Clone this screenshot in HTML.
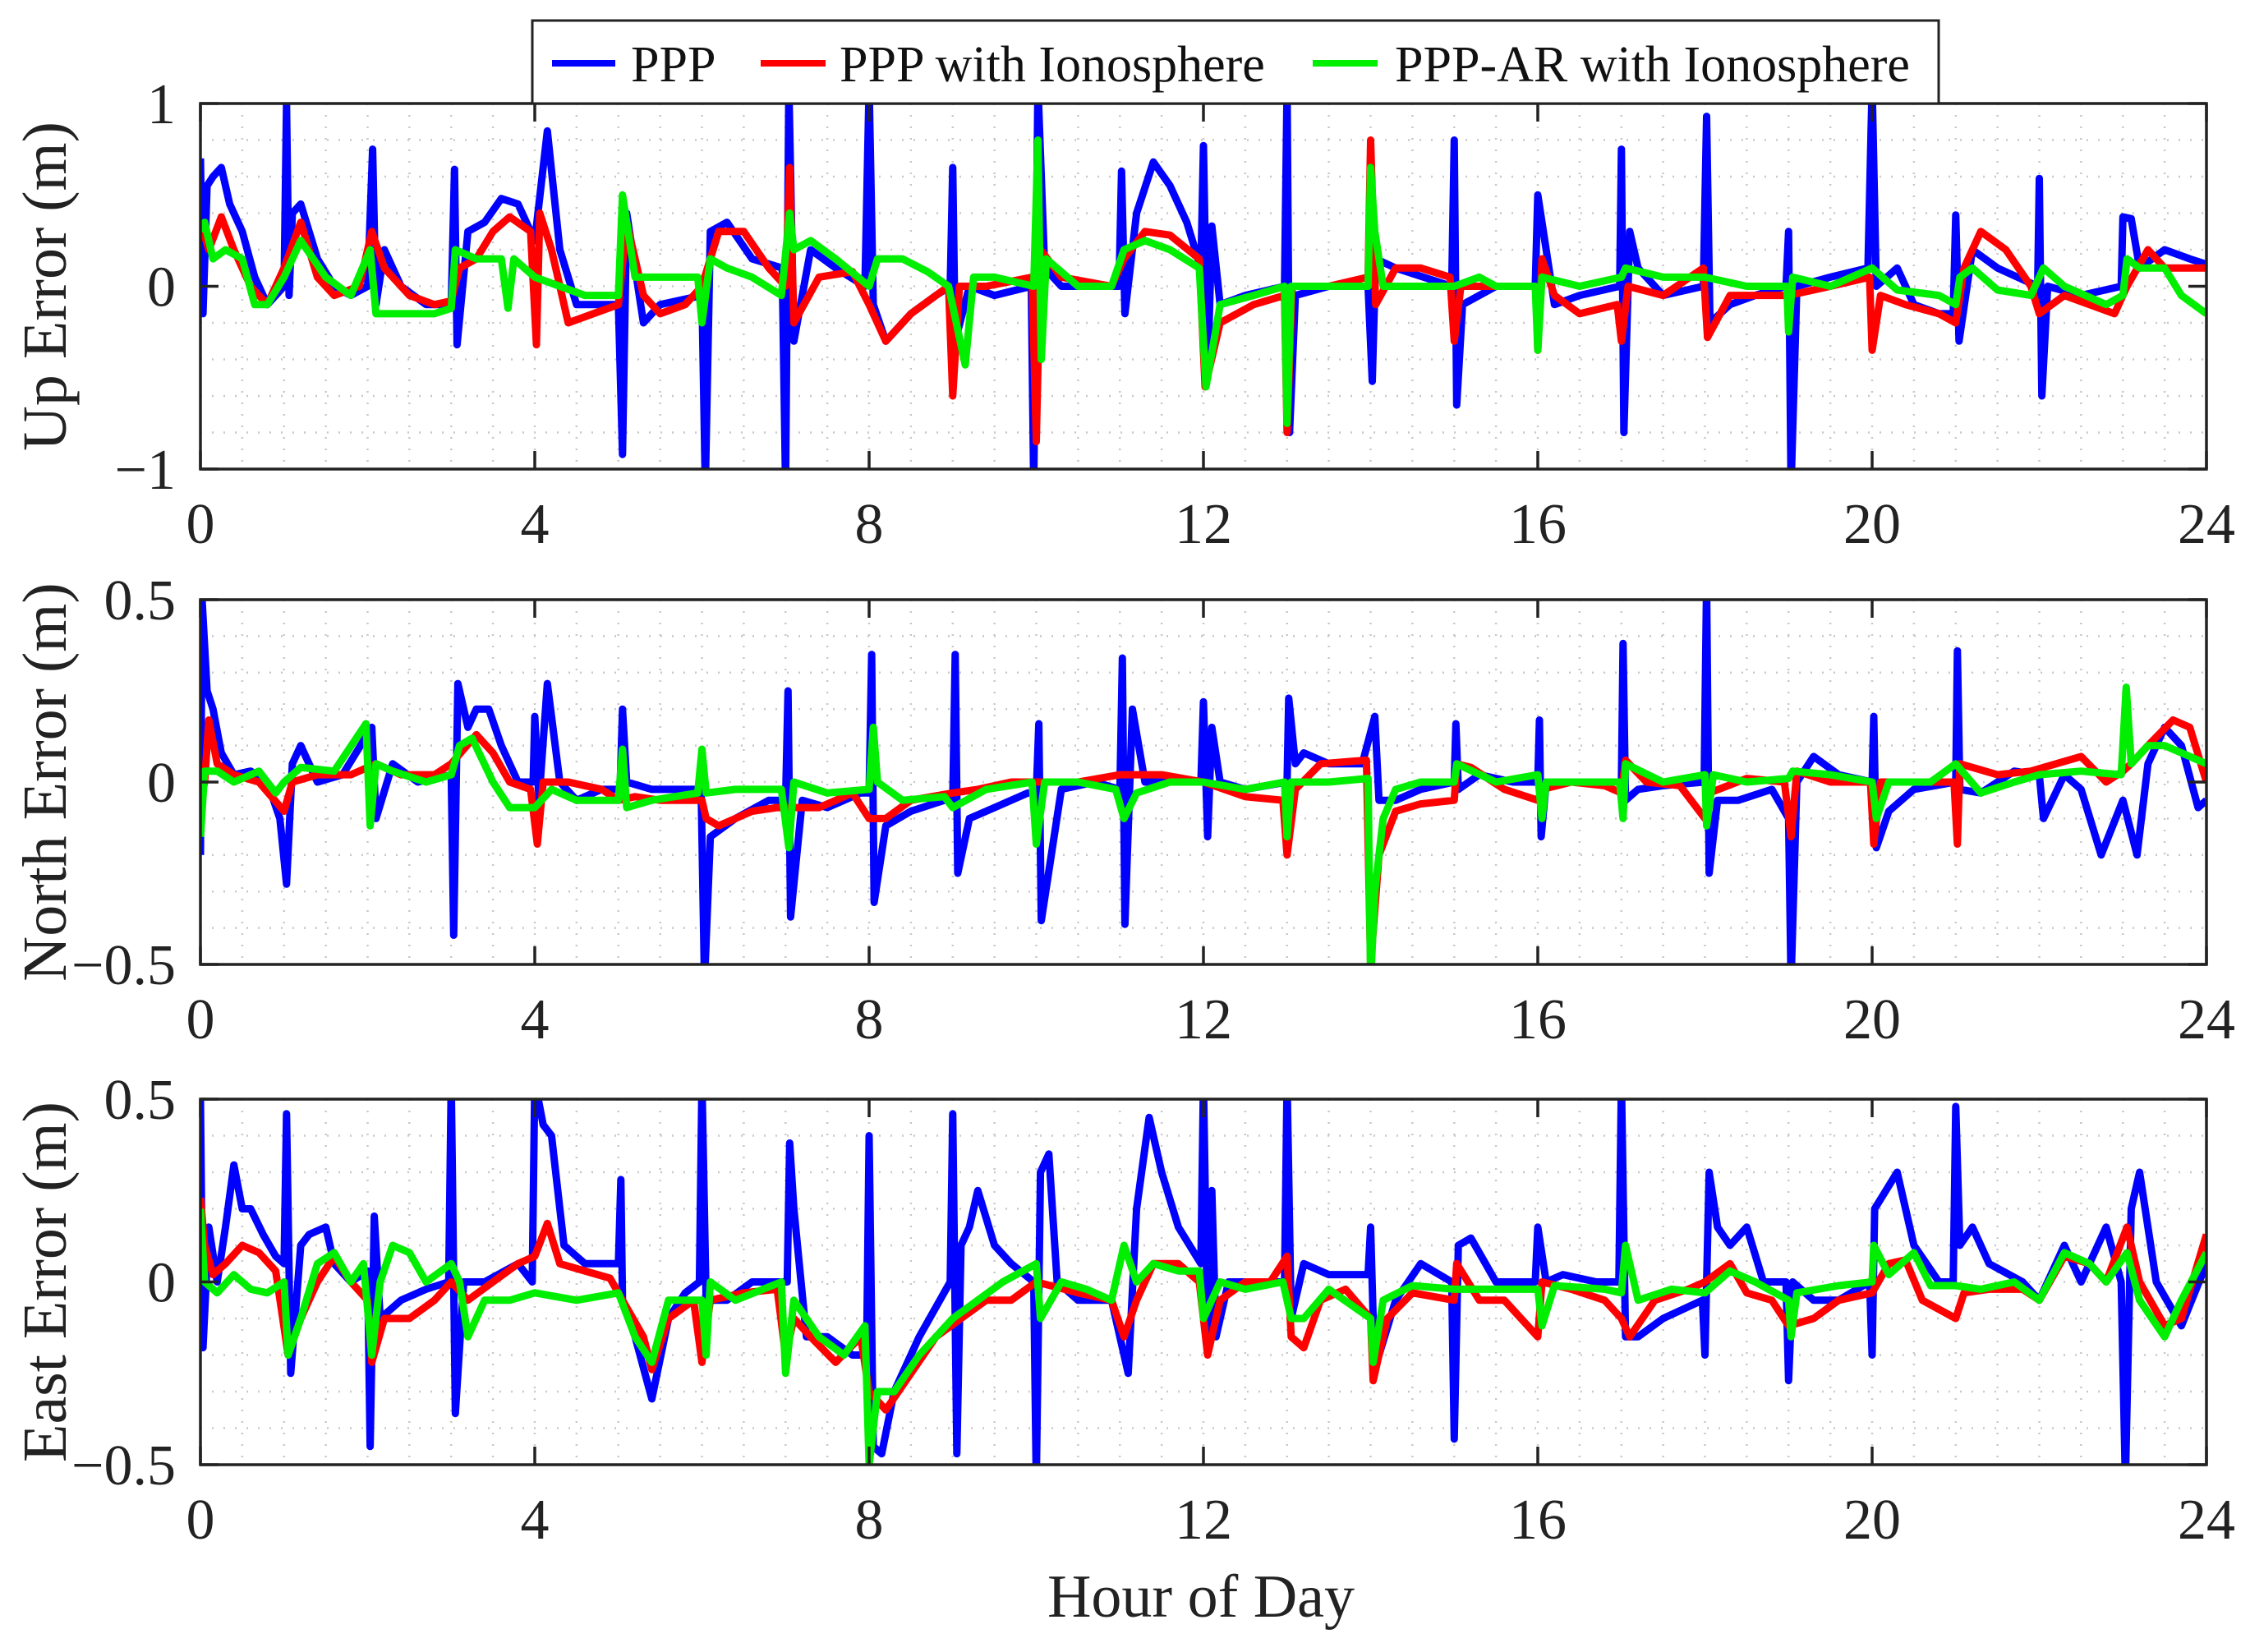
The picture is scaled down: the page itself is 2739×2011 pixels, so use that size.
<!DOCTYPE html>
<html><head><meta charset="utf-8"><style>
html,body{margin:0;padding:0;background:#fff;}
svg{display:block;font-family:"Liberation Serif","Times New Roman",serif;}
</style></head><body>
<svg id="chart" width="2739" height="2011" viewBox="0 0 2739 2011" xmlns="http://www.w3.org/2000/svg">
<rect x="0" y="0" width="2739" height="2011" fill="#fff"/>
<g id="panels"></g>
<text x="1462" y="1968" font-size="74" text-anchor="middle" fill="#222">Hour of Day</text>
<g>
<rect x="648" y="25" width="1712" height="101" fill="#fff" stroke="#222" stroke-width="3"/>
<g><line x1="672" y1="77" x2="749" y2="77" stroke="#0000ff" stroke-width="8"/><text x="768" y="99" font-size="62" fill="#111">PPP</text></g>
<g><line x1="926" y1="77" x2="1005" y2="77" stroke="#ff0000" stroke-width="8"/><text x="1022" y="99" font-size="62" fill="#111">PPP with Ionosphere</text></g>
<g><line x1="1598" y1="77" x2="1677" y2="77" stroke="#00ee00" stroke-width="8"/><text x="1698" y="99" font-size="62" fill="#111">PPP-AR with Ionosphere</text></g>
</g>
</svg>
<script>
const xTicks = [0,4,8,12,16,20,24];
const upTicks = [-1,0,1];
const upTickLabels = ["\u22121","0","1"];
const neTicks = [-0.5,0,0.5];
const neTickLabels = ["\u22120.5","0","0.5"];

const upPPP = [[0,0.7],[0.03,-0.15],[0.08,0.55],[0.15,0.6],[0.25,0.65],[0.35,0.45],[0.5,0.3],[0.65,0.05],[0.8,-0.1],[1.0,0.0],[1.03,1],[1.06,-0.05],[1.1,0.4],[1.2,0.45],[1.4,0.15],[1.6,0.0],[1.8,-0.05],[2.0,0.0],[2.06,0.75],[2.1,-0.1],[2.2,0.2],[2.4,0.0],[2.7,-0.1],[3.0,-0.1],[3.04,0.64],[3.07,-0.32],[3.2,0.3],[3.4,0.35],[3.6,0.48],[3.8,0.45],[4.0,0.25],[4.05,0.45],[4.15,0.85],[4.3,0.2],[4.5,-0.1],[4.8,-0.1],[5.0,-0.1],[5.05,-0.92],[5.1,0.4],[5.3,-0.2],[5.5,-0.1],[6.0,-0.05],[6.04,-1.1],[6.1,0.3],[6.3,0.35],[6.6,0.15],[6.96,0.1],[7.0,-1.1],[7.04,1.1],[7.1,-0.3],[7.3,0.2],[7.6,0.1],[7.95,0.0],[8.0,1.1],[8.05,-0.1],[8.2,-0.3],[8.5,-0.15],[8.8,-0.05],[8.97,0.0],[9.0,0.65],[9.03,-0.3],[9.2,0.0],[9.5,-0.05],[9.94,0.0],[9.97,-1.1],[10.02,1.1],[10.1,0.1],[10.3,0.0],[10.8,0.0],[10.99,0.0],[11.02,0.63],[11.06,-0.15],[11.2,0.4],[11.4,0.68],[11.6,0.55],[11.8,0.35],[11.97,0.1],[12.0,0.77],[12.05,-0.5],[12.1,0.33],[12.2,-0.1],[12.5,-0.05],[12.97,0.0],[13.0,1.1],[13.03,-0.8],[13.1,-0.05],[13.5,0.0],[13.97,0.0],[14.02,-0.52],[14.06,0.15],[14.3,0.1],[14.97,0.0],[15.0,0.8],[15.03,-0.65],[15.1,-0.1],[15.5,0.0],[15.97,0.0],[16.0,0.5],[16.1,0.2],[16.2,-0.1],[16.5,-0.05],[16.98,0.0],[17.0,0.75],[17.03,-0.8],[17.1,0.3],[17.2,0.1],[17.5,-0.05],[17.98,0.0],[18.02,0.93],[18.06,-0.2],[18.3,-0.1],[18.6,-0.05],[18.97,0.0],[19.0,0.3],[19.03,-1.1],[19.1,0.0],[19.5,0.05],[19.95,0.1],[20.0,1.1],[20.05,0.0],[20.3,0.1],[20.5,-0.1],[20.8,-0.15],[20.97,-0.15],[21.0,0.39],[21.04,-0.3],[21.2,0.2],[21.5,0.1],[21.98,0.0],[22.0,0.59],[22.03,-0.6],[22.1,0.0],[22.5,-0.05],[22.98,0.0],[23.0,0.38],[23.1,0.37],[23.2,0.1],[23.5,0.2],[23.8,0.15],[24,0.12]];
const upIono = [[0,0.35],[0.1,0.2],[0.25,0.38],[0.4,0.2],[0.6,0.0],[0.8,-0.1],[1.0,0.1],[1.2,0.35],[1.4,0.05],[1.6,-0.05],[1.9,0.0],[2.05,0.3],[2.2,0.1],[2.5,-0.05],[2.8,-0.1],[3.0,-0.08],[3.1,0.1],[3.3,0.15],[3.5,0.3],[3.7,0.38],[3.95,0.3],[4.02,-0.32],[4.06,0.4],[4.2,0.2],[4.4,-0.2],[4.7,-0.15],[5.0,-0.1],[5.1,0.35],[5.3,-0.05],[5.5,-0.15],[5.8,-0.1],[6.0,0.0],[6.2,0.3],[6.5,0.3],[6.8,0.1],[7.0,0.0],[7.05,0.65],[7.1,-0.2],[7.4,0.05],[7.8,0.08],[8.0,-0.1],[8.2,-0.3],[8.5,-0.15],[8.95,0.0],[9.0,-0.6],[9.08,0.0],[9.4,0.0],[9.95,0.05],[10.0,-0.85],[10.05,0.2],[10.3,0.05],[10.9,0.0],[11.05,0.15],[11.3,0.3],[11.6,0.28],[11.95,0.15],[12.02,-0.55],[12.2,-0.2],[12.6,-0.1],[12.97,-0.05],[13.0,-0.8],[13.06,0.0],[13.5,0.0],[13.97,0.05],[14.0,0.8],[14.06,-0.1],[14.3,0.1],[14.6,0.1],[14.95,0.05],[15.0,-0.3],[15.08,0.0],[15.5,0.0],[15.98,0.0],[16.0,-0.35],[16.05,0.15],[16.2,-0.05],[16.5,-0.15],[16.95,-0.1],[17.0,-0.3],[17.08,0.0],[17.5,-0.05],[17.98,0.1],[18.03,-0.28],[18.3,-0.05],[18.7,-0.05],[19.0,-0.05],[19.5,0.0],[19.97,0.05],[20.0,-0.35],[20.1,-0.05],[20.4,-0.1],[20.8,-0.15],[21.0,-0.2],[21.1,0.1],[21.3,0.3],[21.6,0.2],[21.9,0.0],[22.0,-0.15],[22.3,-0.05],[22.6,-0.1],[22.9,-0.15],[23.05,0.0],[23.3,0.2],[23.5,0.1],[23.7,0.1],[24,0.1]];
const upAR = [[0,0.3],[0.05,0.35],[0.15,0.15],[0.3,0.2],[0.5,0.15],[0.65,-0.1],[0.8,-0.1],[1.0,0.05],[1.2,0.25],[1.5,0.05],[1.8,-0.05],[2.03,0.2],[2.1,-0.15],[2.4,-0.15],[2.8,-0.15],[3.0,-0.12],[3.05,0.2],[3.3,0.15],[3.6,0.15],[3.68,-0.12],[3.75,0.15],[4.0,0.05],[4.3,0.0],[4.6,-0.05],[5.0,-0.05],[5.05,0.5],[5.2,0.05],[5.5,0.05],[5.95,0.05],[6.0,-0.2],[6.1,0.15],[6.3,0.1],[6.6,0.05],[6.95,-0.05],[7.05,0.4],[7.1,0.2],[7.3,0.25],[7.6,0.15],[8.0,0.0],[8.1,0.15],[8.4,0.15],[8.7,0.08],[8.95,0.0],[9.15,-0.43],[9.25,0.05],[9.5,0.05],[9.97,0.0],[10.02,0.8],[10.06,-0.4],[10.12,0.15],[10.5,0.0],[10.9,0.0],[11.05,0.2],[11.3,0.25],[11.6,0.2],[11.95,0.1],[12.03,-0.55],[12.2,-0.1],[12.6,-0.05],[12.97,0.0],[13.0,-0.75],[13.05,0.0],[13.5,0.0],[13.97,0.0],[14.0,0.65],[14.05,0.3],[14.15,0.0],[14.5,0.0],[15.0,0.0],[15.3,0.05],[15.5,0.0],[15.97,0.0],[16.0,-0.35],[16.05,0.05],[16.5,0.0],[17.0,0.05],[17.05,0.1],[17.5,0.05],[18.0,0.05],[18.5,0.0],[18.98,0.0],[19.0,-0.25],[19.05,0.05],[19.5,0.0],[20.0,0.1],[20.3,-0.02],[20.8,-0.05],[21.0,-0.1],[21.05,0.05],[21.2,0.1],[21.5,-0.02],[21.9,-0.05],[22.05,0.1],[22.3,0.0],[22.8,-0.1],[23.0,-0.05],[23.05,0.15],[23.2,0.1],[23.5,0.1],[23.7,-0.05],[24,-0.15]];

const nPPP = [[0,-0.2],[0.02,0.5],[0.08,0.25],[0.15,0.2],[0.25,0.08],[0.4,0.02],[0.6,0.03],[0.8,0.0],[0.95,-0.1],[1.03,-0.28],[1.1,0.05],[1.2,0.1],[1.4,0.0],[1.7,0.02],[2.05,0.15],[2.1,-0.1],[2.3,0.05],[2.6,0.0],[3.0,0.02],[3.03,-0.42],[3.08,0.27],[3.2,0.15],[3.3,0.2],[3.45,0.2],[3.6,0.1],[3.8,0.0],[3.98,0.0],[4.0,0.18],[4.05,-0.05],[4.15,0.27],[4.3,0.0],[4.5,-0.05],[4.8,-0.02],[5.02,-0.02],[5.05,0.2],[5.1,0.0],[5.4,-0.02],[5.8,-0.02],[5.99,-0.02],[6.03,-0.55],[6.1,-0.15],[6.4,-0.1],[6.8,-0.05],[7.0,-0.05],[7.03,0.25],[7.06,-0.37],[7.2,-0.05],[7.5,-0.07],[7.9,-0.03],[8.0,-0.03],[8.03,0.35],[8.06,-0.33],[8.2,-0.12],[8.5,-0.08],[8.9,-0.05],[9.0,-0.05],[9.03,0.35],[9.06,-0.25],[9.2,-0.1],[9.5,-0.07],[9.9,-0.03],[10.0,-0.03],[10.03,0.16],[10.06,-0.38],[10.3,-0.02],[10.7,0.0],[11.0,-0.02],[11.03,0.34],[11.06,-0.39],[11.15,0.2],[11.3,0.0],[11.6,0.0],[11.97,0.0],[12.0,0.22],[12.05,-0.15],[12.1,0.15],[12.2,0.0],[12.5,-0.02],[13.0,0.0],[13.02,0.23],[13.1,0.05],[13.2,0.08],[13.5,0.05],[13.9,0.05],[14.05,0.18],[14.1,-0.05],[14.3,-0.05],[14.6,-0.02],[15.0,0.0],[15.02,0.16],[15.05,-0.02],[15.3,0.02],[15.7,0.0],[16.0,0.0],[16.02,0.17],[16.04,-0.15],[16.1,0.0],[16.5,0.0],[17.0,0.0],[17.02,0.38],[17.05,-0.05],[17.2,-0.02],[17.5,-0.01],[17.99,0.0],[18.02,0.55],[18.05,-0.25],[18.15,-0.05],[18.4,-0.05],[18.8,-0.02],[19.0,-0.1],[19.03,-0.55],[19.1,0.0],[19.3,0.07],[19.6,0.02],[20.0,0.0],[20.02,0.18],[20.05,-0.18],[20.2,-0.08],[20.5,-0.02],[21.0,0.0],[21.02,0.36],[21.05,-0.02],[21.3,-0.03],[21.7,0.03],[22.0,0.02],[22.05,-0.1],[22.3,0.02],[22.5,-0.02],[22.74,-0.2],[23.0,-0.05],[23.17,-0.2],[23.3,0.05],[23.5,0.15],[23.7,0.1],[23.9,-0.07],[24,-0.05]];
const nIono = [[0,-0.05],[0.05,0.0],[0.1,0.17],[0.2,0.05],[0.4,0.02],[0.7,0.0],[1.0,-0.08],[1.1,0.0],[1.4,0.02],[1.8,0.02],[2.1,0.05],[2.4,0.02],[2.8,0.02],[3.0,0.05],[3.3,0.13],[3.5,0.08],[3.7,0.0],[3.95,-0.02],[4.03,-0.17],[4.1,0.0],[4.4,0.0],[4.8,-0.02],[5.0,-0.05],[5.2,-0.04],[5.5,-0.05],[6.0,-0.05],[6.05,-0.1],[6.2,-0.12],[6.6,-0.08],[6.9,-0.07],[7.1,-0.07],[7.4,-0.07],[7.8,-0.03],[8.0,-0.1],[8.2,-0.1],[8.5,-0.05],[9.0,-0.03],[9.3,-0.02],[9.7,0.0],[10.0,0.0],[10.5,0.0],[11.0,0.02],[11.5,0.02],[12.0,0.0],[12.5,-0.04],[12.95,-0.05],[13.0,-0.2],[13.1,-0.02],[13.4,0.05],[13.95,0.06],[14.0,-0.5],[14.1,-0.2],[14.3,-0.08],[14.6,-0.06],[15.0,-0.05],[15.03,0.05],[15.2,0.04],[15.6,-0.02],[16.0,-0.05],[16.05,-0.02],[16.4,0.0],[16.8,-0.01],[17.0,-0.03],[17.05,0.06],[17.3,0.0],[17.7,-0.01],[18.0,-0.1],[18.05,-0.03],[18.5,0.01],[18.95,0.0],[19.03,-0.15],[19.1,0.03],[19.5,0.0],[19.98,0.0],[20.02,-0.17],[20.1,0.0],[20.5,0.0],[20.98,0.0],[21.02,-0.17],[21.05,0.05],[21.5,0.02],[21.9,0.03],[22.2,0.05],[22.5,0.07],[22.8,0.0],[23.0,0.03],[23.1,0.05],[23.3,0.1],[23.6,0.17],[23.8,0.15],[24,0.0]];
const nAR = [[0,-0.15],[0.05,0.03],[0.2,0.03],[0.4,0.0],[0.7,0.03],[0.9,-0.03],[1.0,0.0],[1.2,0.04],[1.6,0.03],[1.98,0.16],[2.03,-0.12],[2.1,0.05],[2.3,0.03],[2.7,0.0],[3.0,0.02],[3.1,0.1],[3.25,0.12],[3.5,0.0],[3.7,-0.07],[4.0,-0.07],[4.2,-0.02],[4.5,-0.05],[5.0,-0.05],[5.05,0.09],[5.1,-0.07],[5.4,-0.05],[5.95,-0.03],[6.0,0.09],[6.05,-0.03],[6.4,-0.02],[6.95,-0.02],[7.04,-0.18],[7.1,0.0],[7.5,-0.03],[8.0,-0.02],[8.05,0.15],[8.1,0.0],[8.4,-0.05],[8.9,-0.04],[9.0,-0.07],[9.4,-0.02],[9.95,0.0],[10.0,-0.17],[10.1,0.0],[10.5,0.0],[10.95,-0.02],[11.05,-0.1],[11.2,-0.03],[11.6,0.0],[12.0,0.0],[12.5,-0.02],[12.97,0.0],[13.0,-0.15],[13.05,0.0],[13.5,0.0],[13.97,0.01],[14.0,-0.55],[14.05,-0.3],[14.15,-0.1],[14.3,-0.02],[14.6,0.0],[15.0,0.0],[15.03,0.05],[15.5,0.0],[16.0,0.02],[16.05,-0.1],[16.1,0.0],[16.5,0.0],[16.98,0.0],[17.02,-0.1],[17.05,0.05],[17.5,0.0],[18.0,0.02],[18.02,-0.12],[18.1,0.02],[18.5,0.0],[19.0,0.01],[19.05,0.03],[19.5,0.02],[20.0,0.0],[20.05,-0.1],[20.2,0.0],[20.7,0.0],[21.0,0.05],[21.3,-0.03],[21.7,0.0],[22.0,0.02],[22.5,0.03],[22.98,0.02],[23.04,0.26],[23.1,0.05],[23.3,0.1],[23.5,0.1],[23.8,0.07],[24,0.05]];

const ePPP = [[0,0.5],[0.03,-0.18],[0.1,0.15],[0.2,0.0],[0.3,0.15],[0.4,0.32],[0.5,0.2],[0.6,0.2],[0.75,0.13],[0.9,0.07],[1.0,0.05],[1.03,0.46],[1.08,-0.25],[1.2,0.1],[1.3,0.13],[1.5,0.15],[1.6,0.05],[1.8,0.0],[2.0,0.03],[2.03,-0.45],[2.08,0.18],[2.15,-0.1],[2.4,-0.05],[2.7,-0.02],[2.97,0.0],[3.0,0.55],[3.05,-0.36],[3.15,0.0],[3.4,0.0],[3.8,0.05],[3.97,0.0],[4.0,0.55],[4.1,0.43],[4.2,0.4],[4.35,0.1],[4.6,0.05],[4.9,0.05],[5.0,0.05],[5.03,0.28],[5.05,-0.05],[5.2,-0.15],[5.4,-0.32],[5.6,-0.1],[5.8,-0.03],[5.97,0.0],[6.0,0.55],[6.05,-0.05],[6.3,-0.05],[6.6,0.0],[6.9,0.0],[7.02,0.0],[7.05,0.38],[7.1,0.2],[7.25,-0.15],[7.5,-0.15],[7.8,-0.2],[7.97,-0.2],[8.0,0.4],[8.05,-0.45],[8.15,-0.47],[8.3,-0.3],[8.6,-0.15],[8.97,0.0],[9.0,0.46],[9.05,-0.47],[9.1,0.1],[9.2,0.15],[9.3,0.25],[9.5,0.1],[9.7,0.05],[9.97,0.0],[10.0,-0.55],[10.05,0.3],[10.15,0.35],[10.25,0.0],[10.5,-0.05],[10.9,-0.05],[11.1,-0.25],[11.2,0.2],[11.35,0.45],[11.5,0.3],[11.7,0.15],[11.97,0.05],[12.0,0.55],[12.05,-0.15],[12.1,0.25],[12.15,-0.15],[12.3,0.0],[12.5,0.0],[12.97,0.0],[13.0,0.55],[13.05,-0.1],[13.2,0.05],[13.5,0.02],[13.97,0.02],[14.0,0.15],[14.03,-0.1],[14.1,-0.2],[14.3,-0.05],[14.6,0.05],[14.97,0.0],[15.0,-0.43],[15.05,0.1],[15.2,0.12],[15.5,0.0],[15.97,0.0],[16.0,0.15],[16.1,0.0],[16.3,0.02],[16.7,0.0],[16.97,0.0],[17.0,0.55],[17.05,-0.15],[17.2,-0.15],[17.5,-0.1],[17.97,-0.05],[18.0,-0.2],[18.05,0.3],[18.15,0.15],[18.3,0.1],[18.5,0.15],[18.7,0.0],[18.97,0.0],[19.0,-0.27],[19.05,0.0],[19.3,-0.05],[19.6,-0.05],[19.97,0.0],[20.0,-0.2],[20.03,0.2],[20.3,0.3],[20.5,0.1],[20.8,0.0],[20.97,0.0],[21.0,0.48],[21.05,0.1],[21.2,0.15],[21.4,0.05],[21.8,0.0],[22.0,-0.05],[22.3,0.1],[22.5,0.0],[22.8,0.15],[22.98,0.0],[23.03,-0.55],[23.1,0.2],[23.2,0.3],[23.4,0.0],[23.7,-0.12],[24,0.05]];
const eIono = [[0,0.23],[0.05,0.1],[0.15,0.02],[0.3,0.05],[0.5,0.1],[0.7,0.08],[0.9,0.03],[1.05,-0.2],[1.2,-0.1],[1.4,0.0],[1.6,0.07],[1.8,0.0],[2.0,-0.05],[2.05,-0.22],[2.2,-0.1],[2.5,-0.1],[2.8,-0.05],[3.0,0.0],[3.2,-0.05],[3.5,0.0],[3.8,0.05],[4.0,0.07],[4.15,0.16],[4.3,0.05],[4.6,0.03],[4.9,0.01],[5.1,-0.07],[5.3,-0.15],[5.4,-0.24],[5.6,-0.1],[5.9,-0.05],[6.0,-0.22],[6.1,-0.05],[6.5,-0.03],[6.9,-0.02],[7.0,-0.2],[7.1,-0.1],[7.3,-0.15],[7.6,-0.22],[7.9,-0.15],[8.0,-0.3],[8.2,-0.35],[8.5,-0.25],[8.8,-0.15],[9.1,-0.1],[9.4,-0.05],[9.7,-0.05],[10.0,0.0],[10.5,-0.03],[10.9,-0.05],[11.05,-0.15],[11.2,-0.05],[11.4,0.05],[11.7,0.05],[11.95,0.0],[12.05,-0.2],[12.2,-0.05],[12.5,0.0],[12.8,0.0],[13.0,0.07],[13.05,-0.15],[13.2,-0.18],[13.4,-0.05],[13.7,-0.02],[14.0,-0.1],[14.03,-0.27],[14.2,-0.1],[14.5,-0.03],[15.0,-0.05],[15.03,0.05],[15.3,-0.05],[15.6,-0.05],[16.0,-0.15],[16.05,0.0],[16.4,-0.02],[16.8,-0.05],[17.0,-0.1],[17.1,-0.15],[17.4,-0.05],[17.8,-0.02],[18.0,0.0],[18.3,0.05],[18.5,-0.03],[18.8,-0.05],[19.0,-0.12],[19.3,-0.1],[19.6,-0.05],[20.0,-0.03],[20.2,0.05],[20.4,0.06],[20.6,-0.05],[21.0,-0.1],[21.1,-0.03],[21.4,-0.02],[21.8,-0.02],[22.0,-0.05],[22.3,0.07],[22.6,0.05],[22.8,0.0],[23.05,0.15],[23.2,0.0],[23.5,-0.12],[23.7,-0.1],[24,0.13]];
const eAR = [[0,0.2],[0.05,0.0],[0.2,-0.03],[0.4,0.02],[0.6,-0.02],[0.8,-0.03],[1.0,0.0],[1.05,-0.2],[1.2,-0.1],[1.4,0.05],[1.6,0.08],[1.8,0.0],[1.95,0.05],[2.05,-0.2],[2.15,0.0],[2.3,0.1],[2.5,0.08],[2.7,0.0],[3.0,0.05],[3.1,0.0],[3.2,-0.15],[3.4,-0.05],[3.7,-0.05],[4.0,-0.03],[4.5,-0.05],[5.0,-0.03],[5.2,-0.15],[5.4,-0.22],[5.6,-0.05],[6.0,-0.05],[6.05,-0.2],[6.1,0.0],[6.4,-0.05],[6.95,0.0],[7.0,-0.25],[7.1,-0.05],[7.4,-0.15],[7.7,-0.2],[7.95,-0.12],[8.0,-0.5],[8.1,-0.3],[8.3,-0.3],[8.6,-0.2],[9.0,-0.1],[9.3,-0.05],[9.6,0.0],[10.0,0.05],[10.05,-0.1],[10.3,0.0],[10.6,-0.02],[10.9,-0.05],[11.05,0.1],[11.2,0.0],[11.4,0.05],[11.7,0.03],[11.95,0.03],[12.0,-0.1],[12.2,0.0],[12.5,-0.02],[12.95,0.0],[13.05,-0.1],[13.2,-0.1],[13.5,-0.02],[14.0,-0.1],[14.03,-0.22],[14.15,-0.05],[14.5,-0.01],[15.0,-0.02],[15.5,-0.02],[16.0,-0.02],[16.05,-0.12],[16.2,-0.01],[16.8,-0.02],[17.0,-0.03],[17.05,0.1],[17.2,-0.05],[17.6,-0.02],[18.0,-0.03],[18.3,0.03],[18.6,0.0],[19.0,-0.05],[19.03,-0.15],[19.1,-0.03],[19.6,-0.01],[20.0,0.0],[20.02,0.1],[20.2,0.02],[20.5,0.08],[20.7,-0.01],[21.0,-0.01],[21.3,-0.02],[21.7,0.0],[22.0,-0.05],[22.3,0.08],[22.6,0.05],[22.8,0.0],[23.05,0.08],[23.2,-0.05],[23.5,-0.15],[23.7,-0.05],[24,0.08]];

const NS = 'http://www.w3.org/2000/svg';
const X0 = 244, X1 = 2686;
const panelDefs = [
  {name:'up', top:126, bottom:571, min:-1, max:1, step:0.2, ticks:upTicks, labels:upTickLabels, title:'Up Error (m)', series:[upPPP, upIono, upAR]},
  {name:'north', top:730, bottom:1174, min:-0.5, max:0.5, step:0.1, ticks:neTicks, labels:neTickLabels, title:'North Error (m)', series:[nPPP, nIono, nAR]},
  {name:'east', top:1338, bottom:1783, min:-0.5, max:0.5, step:0.1, ticks:neTicks, labels:neTickLabels, title:'East Error (m)', series:[ePPP, eIono, eAR]}
];
const colors = ['#0000ff','#ff0000','#00ee00'];
const seriesNames = ['ppp','ppp-iono','ppp-ar'];
function xScale(h){ return X0 + (h/24)*(X1-X0); }
function mk(tag, attrs, parent){ const e=document.createElementNS(NS,tag); for(const k in attrs) e.setAttribute(k, attrs[k]); parent.appendChild(e); return e; }
const root = document.getElementById('panels');
panelDefs.forEach((p, pi) => {
  const yScale = v => p.bottom - (v - p.min)/(p.max - p.min)*(p.bottom - p.top);
  const g = mk('g', {}, root);
  
  
  const clipId = 'clip' + pi;
  const cp = mk('clipPath', {id: clipId}, g);
  mk('rect', {x:X0, y:p.top, width:X1-X0, height:p.bottom-p.top}, cp);
  const grid = mk('g', {stroke:'#c8c8c8', 'stroke-width':'2.5', 'stroke-dasharray':'2 12'}, g);
  
  
  for (let h = 0.5; h < 24; h += 0.5) mk('line', {x1:xScale(h), x2:xScale(h), y1:p.top, y2:p.bottom}, grid);
  const nY = Math.round((p.max - p.min)/p.step);
  for (let i = 1; i < nY; i++) { const y = yScale(p.min + i*p.step); mk('line', {x1:X0, x2:X1, y1:y, y2:y}, grid); }
  p.series.forEach((s, si) => {
    const d = s.map((pt, i) => (i ? 'L' : 'M') + xScale(pt[0]).toFixed(1) + ' ' + yScale(pt[1]).toFixed(1)).join(' ');
    const path = mk('path', {d:d, fill:'none', stroke:colors[si], 'stroke-width':'9', 'stroke-linejoin':'round', 'clip-path':'url(#'+clipId+')'}, g);
    
    
  });
  const frame = mk('rect', {x:X0, y:p.top, width:X1-X0, height:p.bottom-p.top, fill:'none', stroke:'#222', 'stroke-width':'3.5'}, g);
  
  
  xTicks.forEach(t => {
    const x = xScale(t);
    mk('line', {x1:x, x2:x, y1:p.bottom, y2:p.bottom-22, stroke:'#222', 'stroke-width':'3.5'}, g);
    mk('line', {x1:x, x2:x, y1:p.top, y2:p.top+22, stroke:'#222', 'stroke-width':'3.5'}, g);
    const tl = mk('text', {x:x, y:p.bottom+90, 'font-size':'70', 'text-anchor':'middle', fill:'#222'}, g);
    
    
    tl.textContent = String(t);
  });
  p.ticks.forEach((t, ti) => {
    const y = yScale(t);
    mk('line', {x1:X0, x2:X0+22, y1:y, y2:y, stroke:'#222', 'stroke-width':'3.5'}, g);
    mk('line', {x1:X1, x2:X1-22, y1:y, y2:y, stroke:'#222', 'stroke-width':'3.5'}, g);
    const yl = mk('text', {x:214, y:y+24, 'font-size':'70', 'text-anchor':'end', fill:'#222'}, g);
    
    
    yl.textContent = p.labels[ti];
  });
  const cy = (p.top + p.bottom)/2;
  const yt = mk('text', {x:80, y:cy, 'font-size':'76', 'text-anchor':'middle', fill:'#222', transform:'rotate(-90 80 '+cy+')'}, g);
  
  
  yt.textContent = p.title;
});
</script>
</body></html>
